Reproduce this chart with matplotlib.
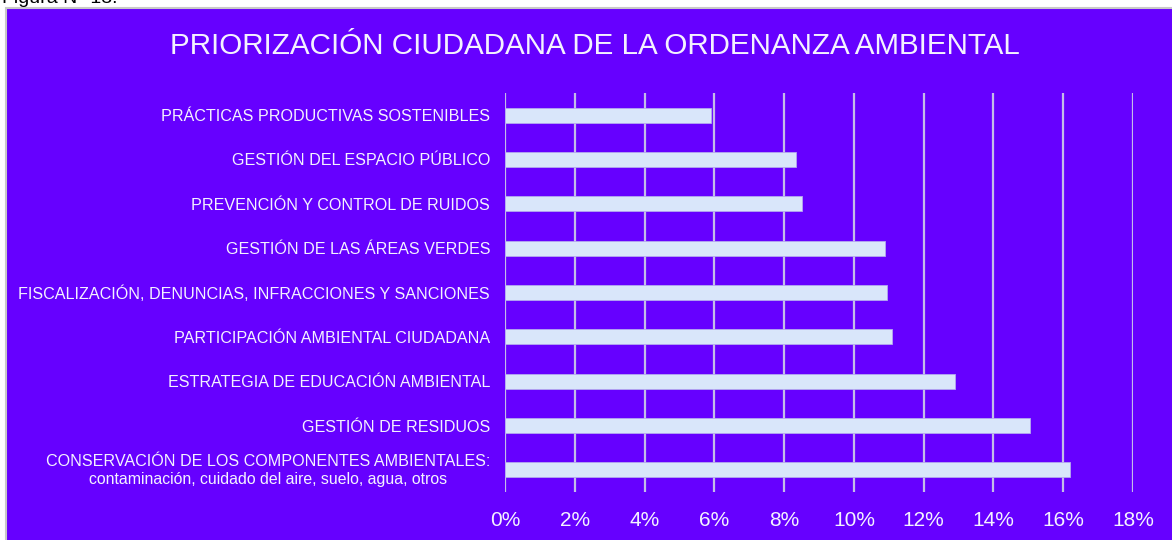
import matplotlib
matplotlib.use("Agg")
import matplotlib.pyplot as plt
from matplotlib.patches import Rectangle

plt.rcParams['font.family'] = ['Liberation Sans', 'DejaVu Sans']

categories = [
    "PRÁCTICAS PRODUCTIVAS SOSTENIBLES",
    "GESTIÓN DEL ESPACIO PÚBLICO",
    "PREVENCIÓN Y CONTROL DE RUIDOS",
    "GESTIÓN DE LAS ÁREAS VERDES",
    "FISCALIZACIÓN, DENUNCIAS, INFRACCIONES Y SANCIONES",
    "PARTICIPACIÓN AMBIENTAL CIUDADANA",
    "ESTRATEGIA DE EDUCACIÓN AMBIENTAL",
    "GESTIÓN DE RESIDUOS",
    "CONSERVACIÓN DE LOS COMPONENTES AMBIENTALES:",
]
last_label_sub = "contaminación, cuidado del aire, suelo, agua, otros"
values = [5.9, 8.35, 8.5, 10.9, 10.95, 11.1, 12.9, 15.05, 16.2]
xticks = [0, 2, 4, 6, 8, 10, 12, 14, 16, 18]
xtick_labels = [f"{t}%" for t in xticks]
title = "PRIORIZACIÓN CIUDADANA DE LA ORDENANZA AMBIENTAL"

W, H = 1172, 540
PURPLE = "#6600FF"
BAR = "#D9E6FA"
GRID = "#C4BCE8"
TXT = "#F4F2FF"

fig = plt.figure(figsize=(W / 100, H / 100), dpi=100)
fig.patch.set_facecolor("white")

# purple panel
fig.patches.append(Rectangle((6 / W, -0.01), 1.0, 1 - 8 / H + 0.01,
                             transform=fig.transFigure, facecolor=PURPLE,
                             edgecolor="#C8C8C8", linewidth=1.5, zorder=-10))

# cut-off caption at very top
fig.text(2 / W, 1 - 3 / H, "Figura N° 13.", fontsize=14, color="black",
         ha="left", va="baseline")

fig.text(595 / W, 1 - 46 / H, title, fontsize=21.3, color=TXT,
         ha="center", va="center")

ax = fig.add_axes([505 / W, 1 - 492 / H, (1133 - 505) / W, (492 - 93) / H])
ax.set_facecolor("none")
ax.set_zorder(5)
ypos = list(range(len(categories)))
ax.barh(ypos, values, height=0.34, color=BAR, edgecolor="#B4A8F0",
        linewidth=0.6, zorder=3)
ax.set_xlim(0, 18)
ax.set_ylim(len(categories) - 0.5, -0.5)
ax.set_xticks(xticks)
ax.set_xticklabels(xtick_labels)
for t in xticks:
    ax.axvline(t, color=GRID, linewidth=1.6, zorder=1)
for s in ax.spines.values():
    s.set_visible(False)
ax.tick_params(axis="x", length=0, pad=14, labelsize=15, labelcolor=TXT)
ax.tick_params(axis="y", length=0, pad=10.8, labelsize=11.6, labelcolor=TXT)
ax.set_yticks(ypos)
ax.set_yticklabels(categories[:-1] + [""])

# two-line last label
main = ax.annotate(categories[-1], xy=(0, ypos[-1]), xycoords="data",
                   xytext=(-15, 8), textcoords="offset pixels",
                   ha="right", va="center", fontsize=11.6, color=TXT)
ax.annotate(last_label_sub, xy=(0.5, 0), xycoords=main,
            xytext=(0, -3), textcoords="offset pixels",
            ha="center", va="top", fontsize=11.4, color=TXT)

fig.savefig("out.png", dpi=100, facecolor="white")
